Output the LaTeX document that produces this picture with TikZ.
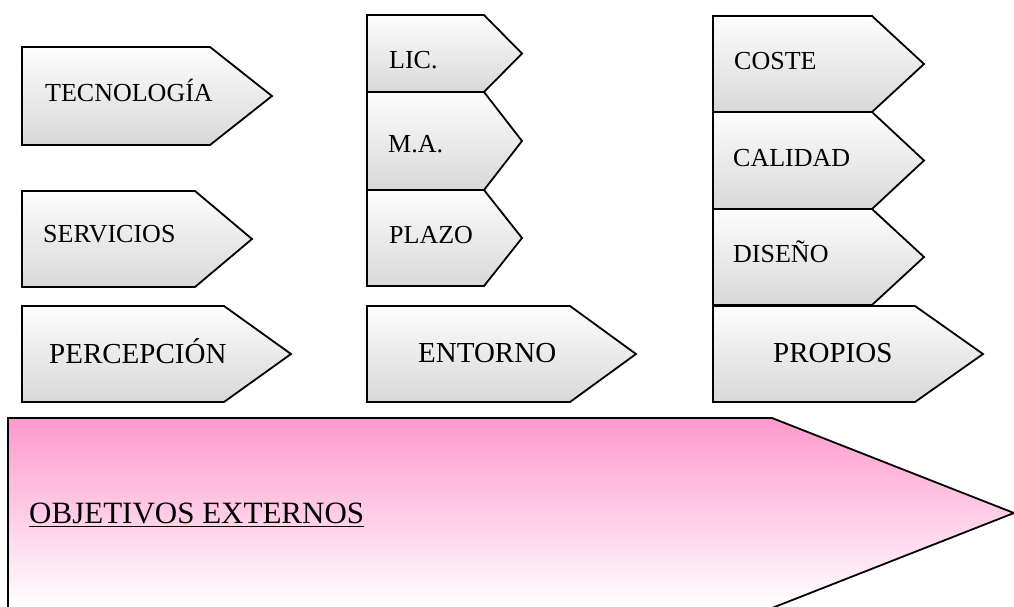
\documentclass[tikz,border=0pt]{standalone}
\usepackage{fontspec}
\setmainfont{Liberation Serif}
\definecolor{tagtop}{RGB}{253,253,253}
\definecolor{tagbottom}{RGB}{216,216,216}
\definecolor{goalpink}{RGB}{255,153,204}
\tikzset{
  tagshape/.style={draw=black, line width=1.8pt, top color=tagtop, bottom color=tagbottom},
  goalshape/.style={draw=black, line width=1.8pt, top color=goalpink, bottom color=white},
  smalllabel/.style={anchor=base west, inner sep=0pt, font=\fontsize{26}{30}\selectfont},
  biglabel/.style={anchor=base west, inner sep=0pt, font=\fontsize{29}{34}\selectfont},
  goallabel/.style={anchor=base west, inner sep=0pt, font=\fontsize{31}{36}\selectfont},
}
% pentagon tag: style, left, top, right, tip x, bottom
\newcommand\tagpath[6]{%
  \path[#1] (#2,#3) -- (#4,#3) -- (#5,{(#3+#6)/2}) -- (#4,#6) -- (#2,#6) -- cycle;}
\begin{document}
\begin{tikzpicture}[x=1pt,y=-1pt]
\useasboundingbox (0,0) rectangle (1014,606);

% left column
\tagpath{tagshape}{22}{47}{210}{272}{145}
\tagpath{tagshape}{22}{191}{195}{252}{287}
\tagpath{tagshape}{22}{306}{224}{291}{402}
\node[smalllabel] (tec) at (45,101) {TECNOLOGÍA};
\node[smalllabel] (serv) at (43,242) {SERVICIOS};
\node[biglabel] (perc) at (49,363) {PERCEPCIÓN};

% middle column
\tagpath{tagshape}{367}{15}{484}{522}{92}
\tagpath{tagshape}{367}{92}{484}{522}{190}
\tagpath{tagshape}{367}{190}{484}{522}{286}
\tagpath{tagshape}{367}{306}{570}{636}{402}
\node[smalllabel] (lic) at (389,68) {LIC.};
\node[smalllabel] (ma) at (388,152) {M.A.};
\node[smalllabel] (plazo) at (389,243) {PLAZO};
\node[biglabel] (ent) at (418,362) {ENTORNO};

% right column
\tagpath{tagshape}{713}{16}{872}{924}{112}
\tagpath{tagshape}{713}{112}{872}{924}{209}
\tagpath{tagshape}{713}{209}{872}{924}{305}
\tagpath{tagshape}{713}{306}{915}{983}{402}
\node[smalllabel] (coste) at (734,69) {COSTE};
\node[smalllabel] (calidad) at (733,166) {CALIDAD};
\node[smalllabel] (diseno) at (733,262) {DISEÑO};
\node[biglabel] (propios) at (773,362) {PROPIOS};

% large pink arrow
\tagpath{goalshape}{8}{418}{772}{1014}{608}
\node[goallabel] (obj) at (29,523) {OBJETIVOS EXTERNOS};
\draw[line width=1.8pt] ([yshift=-3.5pt]obj.base west) -- ([yshift=-3.5pt]obj.base east);
\end{tikzpicture}
\end{document}
